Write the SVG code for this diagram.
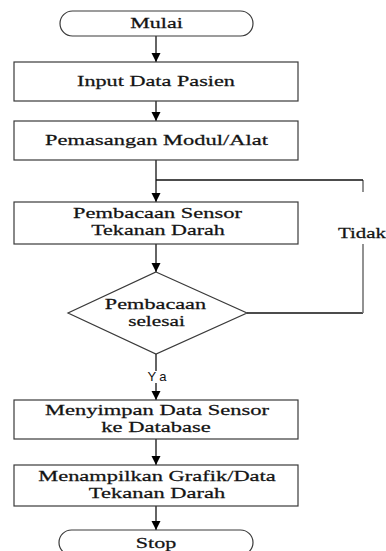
<svg xmlns="http://www.w3.org/2000/svg" width="386" height="551" viewBox="0 0 386 551">
<defs>
<style>
.box{fill:#fff;stroke:#3a3a3a;stroke-width:1.2}
.t{font-family:"Liberation Serif","Times New Roman",serif;font-size:15.5px;fill:#141414;text-anchor:middle;stroke:#141414;stroke-width:0.25}
.c{fill:none;stroke:#111;stroke-width:1.3}
.g{fill:none;stroke:#777;stroke-width:1.6}
.s{font-family:"Liberation Sans",Arial,sans-serif;font-size:13px;fill:#111;text-anchor:middle}
</style>
<marker id="ah" markerUnits="userSpaceOnUse" markerWidth="10" markerHeight="10" refX="9" refY="4.5" orient="auto">
<path d="M0,0 L9,4.5 L0,9 z" fill="#000"/>
</marker>
</defs>
<rect width="386" height="551" fill="#fff"/>
<g id="connectors">
<line class="c" x1="156" y1="36" x2="156" y2="62" marker-end="url(#ah)"/>
<line class="c" x1="156" y1="101" x2="156" y2="121" marker-end="url(#ah)"/>
<line class="c" x1="156" y1="160" x2="156" y2="202" marker-end="url(#ah)"/>
<line class="c" x1="156" y1="244" x2="156" y2="272" marker-end="url(#ah)"/>
<line class="c" x1="156" y1="354" x2="156" y2="371"/>
<line class="c" x1="156" y1="383" x2="156" y2="400" marker-end="url(#ah)"/>
<line class="c" x1="156" y1="439" x2="156" y2="465" marker-end="url(#ah)"/>
<line class="c" x1="156" y1="506" x2="156" y2="530" marker-end="url(#ah)"/>
<polyline class="c" points="247,313 363,313"/>
<line class="g" x1="363" y1="313" x2="363" y2="244"/>
<line class="g" x1="363" y1="192" x2="363" y2="180"/>
<line class="c" x1="363" y1="180" x2="156" y2="180"/>
<text class="s" x="157" y="381" textLength="19" lengthAdjust="spacing">Ya</text>
<text class="t" x="338" y="238" style="text-anchor:start" transform="translate(338,0) scale(1.35,1) translate(-338,0)">Tidak</text>
</g>
<g id="mulai">
<rect class="box" x="60" y="11" width="193" height="25" rx="12.5"/>
<text class="t" x="156.5" y="28" textLength="39" lengthAdjust="spacingAndGlyphs" transform="translate(156.5,0) scale(1.35,1) translate(-156.5,0)">Mulai</text>
</g>
<g id="input">
<rect class="box" x="14" y="62" width="284" height="39"/>
<text class="t" x="156" y="86" textLength="117" lengthAdjust="spacingAndGlyphs" transform="translate(156,0) scale(1.35,1) translate(-156,0)">Input Data Pasien</text>
</g>
<g id="pemasangan">
<rect class="box" x="14" y="121" width="284" height="39"/>
<text class="t" x="156.5" y="145" textLength="165" lengthAdjust="spacingAndGlyphs" transform="translate(156.5,0) scale(1.35,1) translate(-156.5,0)">Pemasangan Modul/Alat</text>
</g>
<g id="pembacaan">
<rect class="box" x="14" y="202" width="284" height="42"/>
<text class="t" x="157.5" y="218" textLength="125" lengthAdjust="spacingAndGlyphs" transform="translate(157.5,0) scale(1.35,1) translate(-157.5,0)">Pembacaan Sensor</text>
<text class="t" x="158" y="235" textLength="99" lengthAdjust="spacingAndGlyphs" transform="translate(158,0) scale(1.35,1) translate(-158,0)">Tekanan Darah</text>
</g>
<g id="decision">
<polygon class="box" points="156,272 247,313 156,354 68,313"/>
<text class="t" x="155.5" y="309" textLength="75" lengthAdjust="spacingAndGlyphs" transform="translate(155.5,0) scale(1.35,1) translate(-155.5,0)">Pembacaan</text>
<text class="t" x="156.5" y="326" textLength="42" lengthAdjust="spacingAndGlyphs" transform="translate(156.5,0) scale(1.35,1) translate(-156.5,0)">selesai</text>
</g>
<g id="menyimpan">
<rect class="box" x="14" y="400" width="284" height="39"/>
<text class="t" x="157" y="415" textLength="166" lengthAdjust="spacingAndGlyphs" transform="translate(157,0) scale(1.35,1) translate(-157,0)">Menyimpan Data Sensor</text>
<text class="t" x="156" y="432" textLength="81" lengthAdjust="spacingAndGlyphs" transform="translate(156,0) scale(1.35,1) translate(-156,0)">ke Database</text>
</g>
<g id="menampilkan">
<rect class="box" x="14" y="465" width="284" height="41"/>
<text class="t" x="157" y="481" textLength="176" lengthAdjust="spacingAndGlyphs" transform="translate(157,0) scale(1.35,1) translate(-157,0)">Menampilkan Grafik/Data</text>
<text class="t" x="157" y="498" textLength="101" lengthAdjust="spacingAndGlyphs" transform="translate(157,0) scale(1.35,1) translate(-157,0)">Tekanan Darah</text>
</g>
<g id="stop">
<rect class="box" x="59" y="530" width="194" height="25" rx="12.5"/>
<text class="t" x="156" y="548" textLength="30" lengthAdjust="spacingAndGlyphs" transform="translate(156,0) scale(1.35,1) translate(-156,0)">Stop</text>
</g>
</svg>
